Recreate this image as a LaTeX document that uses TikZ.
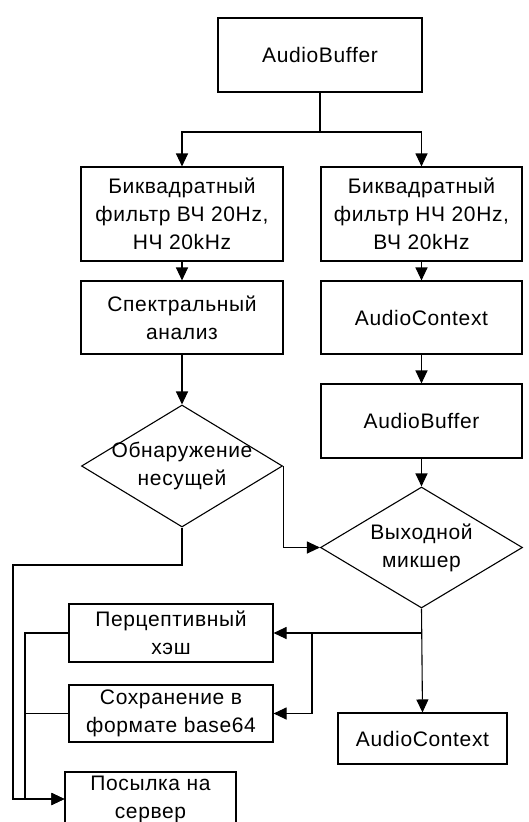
\documentclass[tikz,border=0pt]{standalone}
\usepackage{fontspec}
\setmainfont{Liberation Sans}[LetterSpace=3]
\usetikzlibrary{arrows.meta,shapes.geometric}
\tikzset{
  blk/.style={draw, line width=1.1pt, align=center, inner sep=2pt, font=\fontsize{21}{28}\selectfont},
  dec/.style={draw, diamond, line width=1.1pt, inner sep=0pt},
  dtxt/.style={align=center, inner sep=0pt, font=\fontsize{21}{28}\selectfont},
  arr/.style={-{Triangle[length=13pt,width=12pt]}, line width=1.1pt},
  con/.style={line width=1.1pt},
}

\begin{document}
\begin{tikzpicture}[x=1pt,y=-1pt]
\useasboundingbox (0,0) rectangle (528,822);

% ===================== upper part: input and two filters ================
\node[blk, minimum width=204pt, minimum height=74pt] (ab1) at (320,55) {AudioBuffer};
\node[blk, minimum width=202pt, minimum height=94pt] (fl) at (182,214)
  {Биквадратный\\фильтр ВЧ 20Hz,\\НЧ 20kHz};
\node[blk, minimum width=201pt, minimum height=94pt] (fr) at (421.5,214)
  {Биквадратный\\фильтр НЧ 20Hz,\\ВЧ 20kHz};
\coordinate (fork) at (320,132);
\draw[con] (ab1.south) -- (fork);
\draw[arr] (fork) -| (fl.north);
\draw[arr] (fork) -| (fr.north);

% ===================== left column: analysis ================
\node[blk, minimum width=202pt, minimum height=73pt] (spec) at (182,317.5)
  {Спектральный\\анализ};
\node[dec, minimum width=201pt, minimum height=122pt] (det) at (182,466) {};
\node[dtxt] (detT) at (det.center) {Обнаружение\\несущей};
\draw[arr] (fl) -- (spec);
\draw[arr] (spec) -- (det.north);

% ===================== right column: playback ================
\node[blk, minimum width=201pt, minimum height=73pt] (ctx1) at (421.5,317.5) {AudioContext};
\node[blk, minimum width=201pt, minimum height=74pt] (ab2) at (421.5,421) {AudioBuffer};
\node[dec, minimum width=202pt, minimum height=121pt] (mix) at (421.5,547.5) {};
\node[dtxt] (mixT) at (mix.center) {Выходной\\микшер};
\draw[arr] (fr) -- (ctx1);
\draw[arr] (ctx1) -- (ab2);
\draw[arr] (ab2) -- (mix.north);
\draw[arr] (det.east) |- (mix.west);

% ===================== lower part: outputs ================
\node[blk, minimum width=204pt, minimum height=58pt] (hash) at (171,633)
  {Перцептивный\\хэш};
\node[blk, minimum width=204pt, minimum height=57pt] (save) at (171,713.5)
  {Сохранение в\\формате base64};
\node[blk, minimum width=171pt, minimum height=54pt] (send) at (150.5,799)
  {Посылка на\\сервер};
\node[blk, minimum width=169pt, minimum height=51pt] (ctx2) at (422.5,738.5) {AudioContext};
\coordinate (mfork) at (mix.south |- hash.east);
\coordinate (sfork) at (312,633);
\draw[arr] (mix.south) -- (ctx2.north);
\draw[arr] (mfork) -- (hash.east);
\draw[arr] (sfork) |- (save.east);
% buses on the left
\coordinate (busA) at (13,565);
\coordinate (busB) at (25,633);
\draw[arr] (det.south) |- (busA) |- (send.west);
\draw[arr] (hash.west) -- (busB) |- (send.west);
\draw[con] (save.west) -- (busB |- save.west);

\end{tikzpicture}
\end{document}
